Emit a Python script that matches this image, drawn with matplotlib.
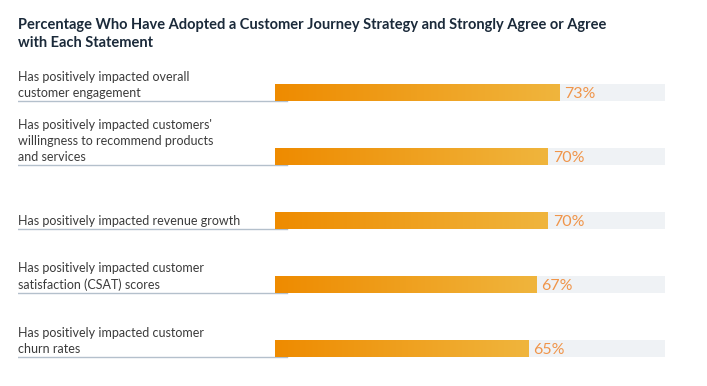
"""Horizontal gradient bar chart: customer journey strategy agreement"""

import numpy as np
import matplotlib.pyplot as plt
from matplotlib.colors import LinearSegmentedColormap

plt.rcParams['font.family'] = ['Lato', 'DejaVu Sans']

title = ('Percentage Who Have Adopted a Customer Journey Strategy and Strongly Agree or Agree\n'
         'with Each Statement')
labels = [
    'Has positively impacted overall\ncustomer engagement',
    "Has positively impacted customers'\nwillingness to recommend products\nand services",
    'Has positively impacted revenue growth',
    'Has positively impacted customer\nsatisfaction (CSAT) scores',
    'Has positively impacted customer\nchurn rates',
]
values = [73, 70, 70, 67, 65]

grad = LinearSegmentedColormap.from_list('bar', ['#ee8b00', '#f0b53d'])

fig = plt.figure(figsize=(7.07, 3.86), dpi=100)
W, H = 707, 386
# x: data -66..100 spans px 18..665 ; y: 5 rows of 64px from px 60.5
ax = fig.add_axes([18 / W, 1 - 380.5 / H, (665 - 18) / W, 320 / H])
ax.axis('off')

bh = 0.27
for i, (lab, v) in enumerate(zip(labels, values)):
    # light track
    ax.barh(i, 100, height=bh, left=0, color='#eff2f5', zorder=1)
    # underline under label
    ax.plot([-66, 3], [i + bh / 2, i + bh / 2], color='#b4c0cc', lw=1, zorder=2)
    bar = ax.barh(i, v, height=bh, left=0, color='none', zorder=3)[0]
    img = ax.imshow(np.linspace(0, 1, 256).reshape(1, -1), cmap=grad, aspect='auto',
                    extent=[0, v, i + bh / 2, i - bh / 2], zorder=3)
    img.set_clip_path(bar)
    ax.text(-66, i + bh / 2 - 0.04, lab, ha='left', va='bottom', fontsize=9,
            color='#3b3b3b', linespacing=1.4)
    ax.text(v + 1.2, i + 0.03, f'{v}%', ha='left', va='center', fontsize=11.5,
            color='#f0954a')

ax.set_ylim(4.5, -0.5)
ax.set_xlim(-66, 100)

fig.text(18 / W, 1 - 18 / H, title, ha='left', va='top', fontsize=10.5,
         fontweight='bold', color='#1b2a3a', linespacing=1.35)

fig.savefig('out.png', dpi=100)
